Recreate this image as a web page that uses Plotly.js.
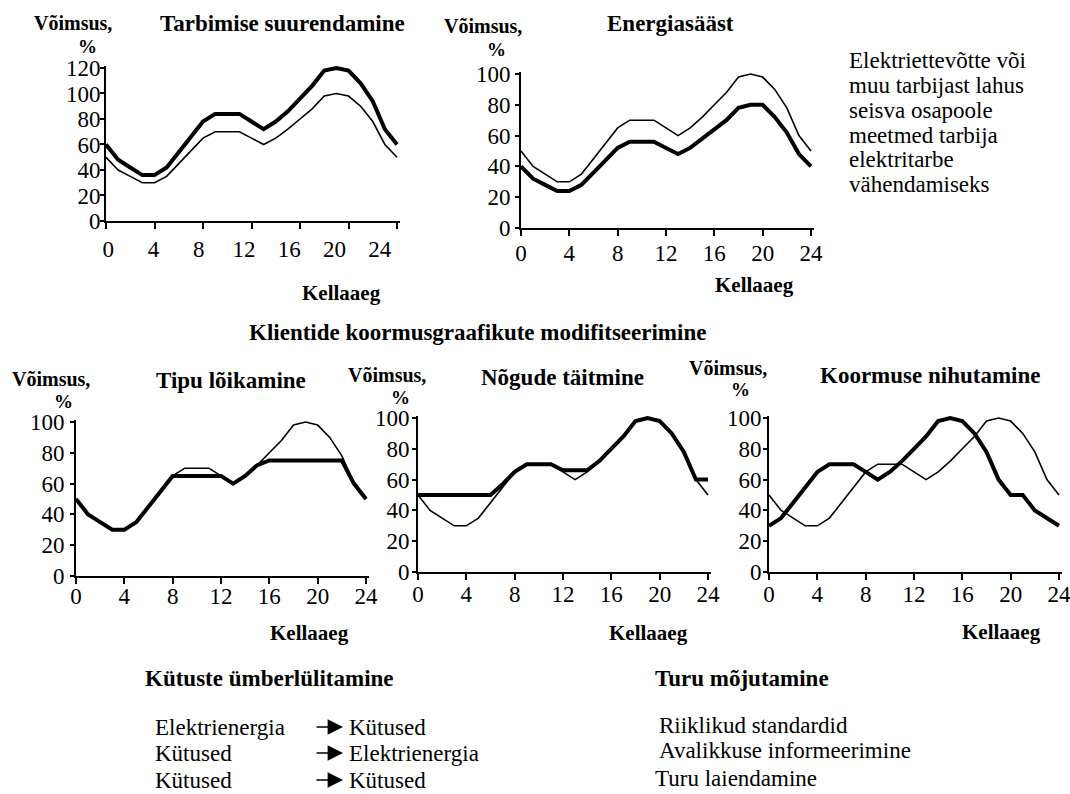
<!DOCTYPE html>
<html>
<head>
<meta charset="utf-8">
<script src="https://cdn.plot.ly/plotly-3.0.1.min.js"></script>
<style>
  html, body { margin: 0; padding: 0; background: #fff; }
  #chart { width: 1070px; height: 794px; }
</style>
</head>
<body>
<div id="chart"></div>
<script>
// ---------------- DATA ----------------
const hours = [0,1,2,3,4,5,6,7,8,9,10,11,12,13,14,15,16,17,18,19,20,21,22,23,24];
const tickHours = [0, 4, 8, 12, 16, 20, 24];
const tickLabels = ["0", "4", "8", "12", "16", "20", "24"];

// original daily load profile (thin line)
const baseLoad = [50,40,35,30,30,35,45,55,65,70,70,70,65,60,65,72,80,88,98,100,98,90,78,60,50];

// modified profiles (thick line)
const tarbimiseSuurendamine = [60,48,42,36,36,42,54,66,78,84,84,84,78,72,78,86,96,106,118,120,118,108,94,72,60];
const energiasaast          = [40,32,28,24,24,28,36,44,52,56,56,56,52,48,52,58,64,70,78,80,80,72,62,48,40];
const tipuLoikamine         = [50,40,35,30,30,35,45,55,65,65,65,65,65,60,65,72,75,75,75,75,75,75,75,60,50];
const nogudeTaitmine        = [50,50,50,50,50,50,50,57,65,70,70,70,66,66,66,72,80,88,98,100,98,90,78,60,60];
const koormuseNihutamine    = [30,35,45,55,65,70,70,70,65,60,65,72,80,88,98,100,98,90,78,60,50,50,40,35,30];

const chartTitles = ["Tarbimise suurendamine", "Energiasääst", "Tipu lõikamine", "Nõgude täitmine", "Koormuse nihutamine"];
const yAxisLabel = ["Võimsus,", "%"];
const xAxisLabel = "Kellaaeg";
const yTicks1 = [0,20,40,60,80,100,120];
const yTicks = [0,20,40,60,80,100];
const centerTitle = "Klientide koormusgraafikute modifitseerimine";
const sideNote = ["Elektriettevõtte või", "muu tarbijast lahus", "seisva osapoole", "meetmed tarbija", "elektritarbe", "vähendamiseks"];
const fuelHeader = "Kütuste ümberlülitamine";
const fuelFrom = ["Elektrienergia", "Kütused", "Kütused"];
const fuelTo = ["Kütused", "Elektrienergia", "Kütused"];
const marketHeader = "Turu mõjutamine";
const marketItems = ["Riiklikud standardid", "Avalikkuse informeerimine", "Turu laiendamine"];

// ---------------- LAYOUT ----------------
const W = 1070, H = 794;
const X = px => px / W;
const Y = py => 1 - py / H;
const SERIF = "'Times New Roman', Times, 'Liberation Serif', 'DejaVu Serif', serif";

// pixel boxes of the plot areas: [x0, x24, yBottom, yTop(at ymax), ymax]
const boxes = [
  [106, 397, 221, 68, 120],
  [521, 811, 228, 74, 100],
  [76, 366, 576, 422, 100],
  [418, 708, 572, 418, 100],
  [769, 1059, 572, 418, 100]
];
const thickSeries = [tarbimiseSuurendamine, energiasaast, tipuLoikamine, nogudeTaitmine, koormuseNihutamine];
const xStandoff = [6, -3, -8, -6, -6];
const yStandoff = [-5, 0, 1, -2, -3];

const traces = [];
const layout = {
  width: W, height: H,
  margin: {l: 0, r: 0, t: 0, b: 0},
  paper_bgcolor: "#fff", plot_bgcolor: "#fff",
  showlegend: false,
  font: {family: SERIF, color: "#000"},
  annotations: []
};

const xExt = 24.25, yExtF = 1.015;
boxes.forEach((b, i) => {
  const [x0, x24, yb, yt, ymax] = b;
  const sx = (x24 - x0) / 24;
  const sy = (yb - yt) / ymax;
  const xr = [0, xExt];
  const yr = [0, ymax * yExtF];
  const xa = i === 0 ? "x" : "x" + (i + 1);
  const ya = i === 0 ? "y" : "y" + (i + 1);
  const xk = i === 0 ? "xaxis" : "xaxis" + (i + 1);
  const yk = i === 0 ? "yaxis" : "yaxis" + (i + 1);
  layout[xk] = {
    domain: [X(x0), X(x0 + sx * xExt)],
    anchor: ya, range: xr, fixedrange: true,
    showgrid: false, zeroline: false,
    showline: true, linecolor: "#000", linewidth: 2,
    ticks: "outside", ticklen: 6, tickwidth: 2, tickcolor: "#000",
    tickvals: tickHours, ticktext: tickLabels,
    showticklabels: i !== 0,
    tickfont: {family: SERIF, size: 23, color: "#000"},
    ticklabelstandoff: xStandoff[i],
    ticklabeloverflow: "allow"
  };
  layout[yk] = {
    domain: [Y(yb), Y(yb - sy * ymax * yExtF)],
    anchor: xa, range: yr, fixedrange: true,
    showgrid: false, zeroline: false,
    showline: true, linecolor: "#000", linewidth: 2,
    ticks: "outside", ticklen: 4, tickwidth: 2, tickcolor: "#000",
    tickvals: ymax === 120 ? yTicks1 : yTicks,
    tickfont: {family: SERIF, size: 23, color: "#000"},
    ticklabelstandoff: yStandoff[i],
    ticklabeloverflow: "allow"
  };
  traces.push({x: hours, y: baseLoad, xaxis: xa, yaxis: ya, type: "scatter", mode: "lines",
               line: {color: "#000", width: 1.6}, hoverinfo: "skip"});
  traces.push({x: hours, y: thickSeries[i], xaxis: xa, yaxis: ya, type: "scatter", mode: "lines",
               line: {color: "#000", width: 4}, hoverinfo: "skip"});
});

// first chart: the hour labels in the original are set slightly tighter than its tick marks
layout.xaxis6 = {
  domain: layout.xaxis.domain.slice(), overlaying: "x", anchor: "y", side: "bottom",
  range: [-0.2, 25.8], fixedrange: true,
  showgrid: false, zeroline: false, showline: false, ticks: "",
  tickvals: tickHours, ticktext: tickLabels,
  tickfont: {family: SERIF, size: 23, color: "#000"},
  ticklabelstandoff: 12, ticklabeloverflow: "allow"
};
traces.push({x: [], y: [], xaxis: "x6", yaxis: "y", type: "scatter", mode: "lines", hoverinfo: "skip"});

function txt(text, px, py, size, bold, anchor) {
  layout.annotations.push({
    text: bold ? "<b>" + text + "</b>" : text,
    x: X(px), y: Y(py), xref: "paper", yref: "paper",
    xanchor: anchor || "center", yanchor: "middle", showarrow: false,
    font: {family: SERIF, size: size, color: "#000"}
  });
}

// per-chart texts
const labelPos = [
  {v: [73, 23], p: [87, 46], t: [282, 23], k: [341, 293]},
  {v: [483, 26], p: [496, 49], t: [670, 23], k: [754, 285]},
  {v: [51, 379], p: [63, 401], t: [231, 380], k: [309, 633]},
  {v: [387, 375], p: [400, 397], t: [562, 377], k: [648, 633]},
  {v: [728, 368], p: [740, 389], t: [930, 376], k: [1001, 632]}
];
labelPos.forEach((lp, i) => {
  txt(yAxisLabel[0], lp.v[0], lp.v[1], 20, true);
  txt(yAxisLabel[1], lp.p[0], lp.p[1], 19, true);
  txt(chartTitles[i], lp.t[0], lp.t[1], 23, true);
  txt(xAxisLabel, lp.k[0], lp.k[1], 21, true);
});

txt(centerTitle, 477, 332, 23, true);

const sideY = [60, 85, 110, 135, 160, 185];
sideNote.forEach((s, i) => txt(s, 847, sideY[i], 23, false, "left"));

txt(fuelHeader, 143, 678, 23, true, "left");
const rowY = [727, 753, 780];
fuelFrom.forEach((s, i) => txt(s, 153, rowY[i], 23, false, "left"));
fuelTo.forEach((s, i) => txt(s, 347, rowY[i], 23, false, "left"));
rowY.forEach(ry => {
  layout.annotations.push({
    text: "", x: X(343), y: Y(ry), xref: "paper", yref: "paper",
    showarrow: true, ax: -28, ay: 0, arrowhead: 2, arrowsize: 2.2, arrowwidth: 1.4, arrowcolor: "#000"
  });
});

txt(marketHeader, 653, 678, 23, true, "left");
const marketX = [657, 657, 653];
const marketY = [725, 750, 778];
marketItems.forEach((s, i) => txt(s, marketX[i], marketY[i], 23, false, "left"));

Plotly.newPlot("chart", traces, layout, {staticPlot: true, displayModeBar: false});
</script>
</body>
</html>
